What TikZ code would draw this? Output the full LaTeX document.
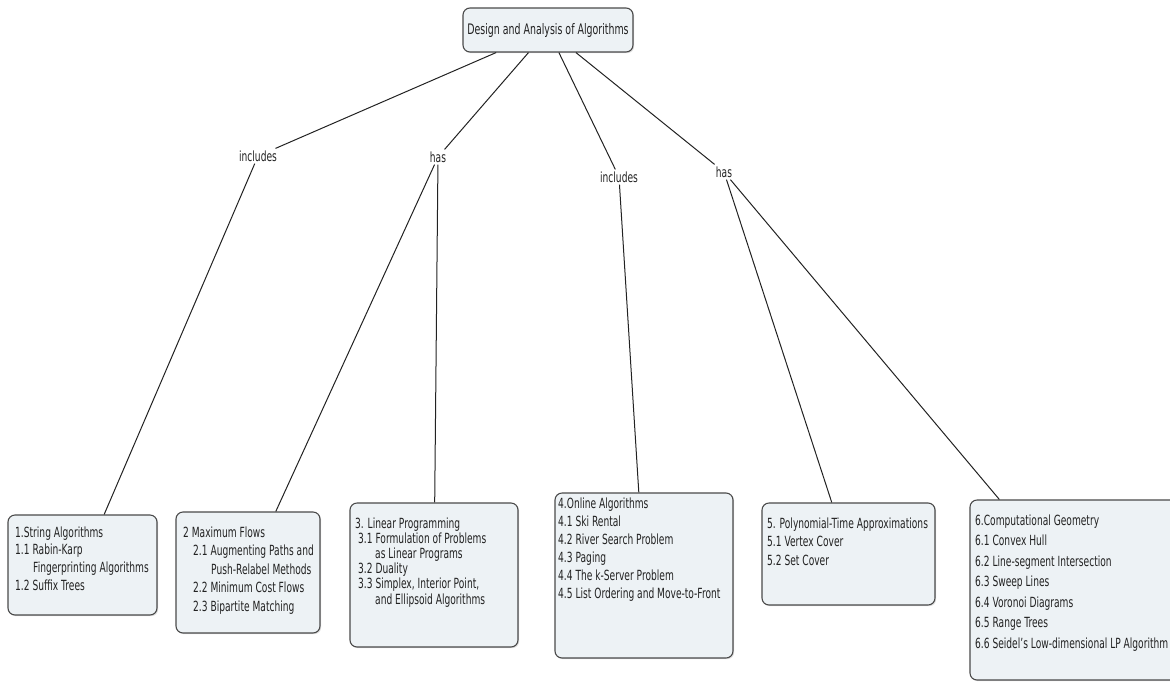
\documentclass[tikz,border=0pt]{standalone}
\usepackage{fontspec}
\setmainfont{DejaVu Sans}[FakeStretch=0.65]
\usetikzlibrary{shadows}
\definecolor{boxfill}{HTML}{EDF2F5}
\definecolor{boxline}{HTML}{4A4A4A}
\definecolor{ink}{HTML}{222222}
\tikzset{
  box/.style={draw=boxline, line width=1.1pt, fill=boxfill, rounded corners=7pt,
    inner sep=0pt, drop shadow={shadow xshift=1.2pt, shadow yshift=-1.2pt, opacity=0.25}},
  txt/.style={inner sep=0pt, anchor=base west, text=ink},
  lbl/.style={inner sep=2pt, text=ink, font=\fontsize{14}{16}\selectfont},
  conn/.style={draw=ink, line width=1pt}
}
\newcommand{\ind}[1]{\hspace*{#1pt}}
\begin{document}
\begin{tikzpicture}[x=1pt,y=-1pt]
\useasboundingbox (0,0) rectangle (1170,681);
\clip (0,0) rectangle (1170,681);
% root
\node[box, minimum width=170pt, minimum height=44pt, text=ink, font=\fontsize{14.5}{16}\selectfont] (root) at (548,30) {Design and Analysis of Algorithms};
% labels
\node[lbl] (l1) at (258,156) {includes};
\node[lbl] (l2) at (438,157) {has};
\node[lbl] (l3) at (619,177) {includes};
\node[lbl] (l4) at (724,172) {has};
% boxes
\node[box, minimum width=149pt, minimum height=100pt] (b1) at (82.5,565) {};
\node[box, minimum width=144pt, minimum height=121pt] (b2) at (248,572.5) {};
\node[box, minimum width=168pt, minimum height=144pt] (b3) at (434,575) {};
\node[box, minimum width=178pt, minimum height=165pt] (b4) at (644,575.5) {};
\node[box, minimum width=173pt, minimum height=102pt] (b5) at (848.5,554) {};
\node[box, minimum width=210pt, minimum height=180pt] (b6) at (1075,590) {};
% box texts
\node[txt] (t1) at (15,537) {\begin{minipage}[t]{150pt}\fontsize{14}{17.8}\selectfont
1.String Algorithms\\
1.1 Rabin-Karp\\
\ind{18}Fingerprinting Algorithms\\
1.2 Suffix Trees\end{minipage}};
\node[txt] (t2) at (183,537) {\begin{minipage}[t]{150pt}\fontsize{14}{18.5}\selectfont
2 Maximum Flows\\
\ind{10}2.1 Augmenting Paths and\\
\ind{28}Push-Relabel Methods\\
\ind{10}2.2 Minimum Cost Flows\\
\ind{10}2.3 Bipartite Matching\end{minipage}};
\node[txt] (t3) at (355,528) {\begin{minipage}[t]{170pt}\fontsize{14}{15.2}\selectfont
3. Linear Programming\\
\ind{3}3.1 Formulation of Problems\\
\ind{20}as Linear Programs\\
\ind{3}3.2 Duality\\
\ind{3}3.3 Simplex, Interior Point,\\
\ind{20}and Ellipsoid Algorithms\end{minipage}};
\node[txt] (t4) at (558,508) {\begin{minipage}[t]{180pt}\fontsize{14}{18}\selectfont
4.Online Algorithms\\
4.1 Ski Rental\\
4.2 River Search Problem\\
4.3 Paging\\
4.4 The k-Server Problem\\
4.5 List Ordering and Move-to-Front\end{minipage}};
\node[txt] (t5) at (767,528) {\begin{minipage}[t]{175pt}\fontsize{14}{18.5}\selectfont
5. Polynomial-Time Approximations\\
5.1 Vertex Cover\\
5.2 Set Cover\end{minipage}};
\node[txt] (t6) at (975,525) {\begin{minipage}[t]{210pt}\fontsize{14}{20.5}\selectfont
6.Computational Geometry\\
6.1 Convex Hull\\
6.2 Line-segment Intersection\\
6.3 Sweep Lines\\
6.4 Voronoi Diagrams\\
6.5 Range Trees\\
6.6 Seidel's Low-dimensional LP Algorithm\end{minipage}};
% connectors
\draw[conn] (root) -- (l1);
\draw[conn] (l1) -- (b1);
\draw[conn] (root) -- (l2);
\draw[conn] (l2) -- (b2);
\draw[conn] (l2) -- (b3);
\draw[conn] (root) -- (l3);
\draw[conn] (l3) -- (b4);
\draw[conn] (root) -- (l4);
\draw[conn] (l4) -- (b5);
\draw[conn] (l4) -- (b6);
\end{tikzpicture}
\end{document}
